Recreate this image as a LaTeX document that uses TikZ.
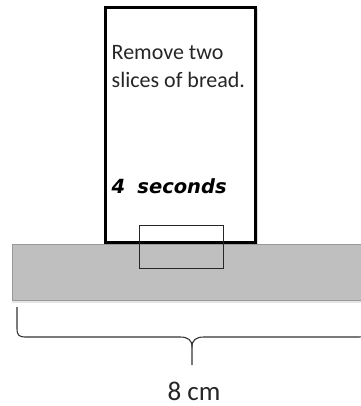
\documentclass[tikz,border=0pt]{standalone}
\usepackage{fontspec}
\setmainfont{Carlito}
\newfontfamily\timefont{DejaVu Sans}
\usetikzlibrary{positioning, shadows}

\begin{document}
\begin{tikzpicture}[x=1pt, y=-1pt]
    % Define styles
    \tikzstyle{card} = [rectangle, minimum width=150pt, minimum height=234pt, inner sep=0pt, draw=black, line width=3pt, fill=white, drop shadow={shadow xshift=2.5pt, shadow yshift=-1.5pt, fill=black!30}]
    \tikzstyle{counter} = [rectangle, minimum width=350pt, minimum height=56pt, inner sep=0pt, draw=black!40, line width=0.6pt, fill=black!25, drop shadow={shadow xshift=0pt, shadow yshift=-3pt, fill=black!20}]
    \tikzstyle{hotspot} = [rectangle, minimum width=84pt, minimum height=43pt, inner sep=0pt, draw=black!85, line width=0.9pt]
    \tikzstyle{cardtext} = [anchor=base west, inner sep=0pt, align=left, text=black!85, font=\fontsize{22}{28}\selectfont]
    \tikzstyle{timetext} = [anchor=base west, inner sep=0pt, font=\timefont\bfseries\itshape\fontsize{19.5}{24}\selectfont]
    \tikzstyle{brace} = [draw=black!80, line width=1.1pt]

    \useasboundingbox (0,0) rectangle (360,406);

    % Nodes
    \node (card) [card] at (180,125) {};
    \node (counter) [counter] at (187,272) {};
    \node (task) [cardtext] at ([xshift=8pt, yshift=-81pt]card.north west) {Remove two\\slices of bread.};
    \node (time) [timetext] at ([xshift=8pt, yshift=-187pt]card.north west) {4\; seconds};
    \node (hotspot) [hotspot] at (181,246.5) {};
    \node (width) [anchor=base, inner sep=0pt, text=black!85, font=\fontsize{27}{32}\selectfont] at (194,400) {8 cm};

    % Brace
    \coordinate (brace left) at (17,307);
    \coordinate (brace tip) at (192,365);
    \coordinate (brace right) at (367,307);
    \draw [brace] (brace left) -- (17,328) .. controls (17,336) and (19,337) .. (27,337) -- (180,337)
        .. controls (188,337) and (192,340) .. (192,347) -- (brace tip);
    \draw [brace] (192,347) .. controls (192,340) and (196,337) .. (204,337) -- (357,337)
        .. controls (365,337) and (367,336) .. (367,328) -- (brace right);
\end{tikzpicture}
\end{document}
